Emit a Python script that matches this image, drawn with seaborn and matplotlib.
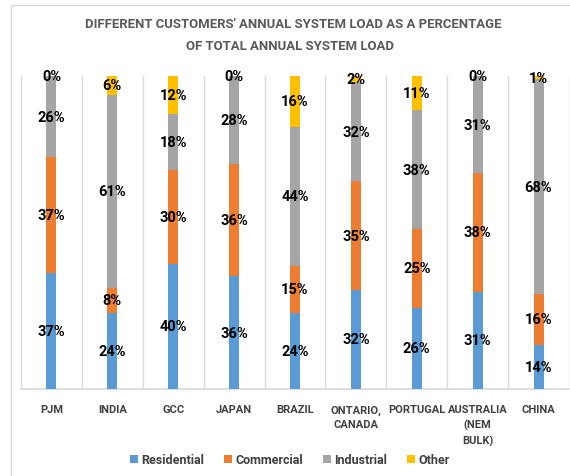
import matplotlib
matplotlib.use("Agg")
import matplotlib.pyplot as plt
import seaborn as sns
import pandas as pd
import numpy as np
from matplotlib.patches import Rectangle, Patch

categories = ["PJM", "INDIA", "GCC", "JAPAN", "BRAZIL", "ONTARIO,\nCANADA",
              "PORTUGAL", "AUSTRALIA\n(NEM\nBULK)", "CHINA"]
residential = [37, 24, 40, 36, 24, 32, 26, 31, 14]
commercial = [37, 8, 30, 36, 15, 35, 25, 38, 16]
industrial = [26, 61, 18, 28, 44, 32, 38, 31, 68]
other = [0, 6, 12, 0, 16, 2, 11, 0, 1]
series_names = ["Residential", "Commercial", "Industrial", "Other"]
colors = ["#5B9BD5", "#ED7D31", "#A5A5A5", "#FFC000"]

sns.set_theme(style="white")
FONT = ["Roboto", "DejaVu Sans"]
plt.rcParams["font.family"] = FONT

df = pd.DataFrame({"cat": categories, "Residential": residential,
                   "Commercial": commercial, "Industrial": industrial,
                   "Other": other})
vals = df[series_names].astype(float)
share = vals.div(vals.sum(axis=1), axis=0) * 100
cum = share.cumsum(axis=1)

fig = plt.figure(figsize=(5.70, 4.77), dpi=100)
fig.patches.append(Rectangle((11 / 570, -0.1), 1.1, 1 - 6 / 477 + 0.1,
                             transform=fig.transFigure, fill=False,
                             edgecolor="#D9D9D9", linewidth=1.0))
ax = fig.add_axes([21 / 570, 1 - 390 / 477, 548 / 570, (390 - 77) / 477])

for name, col in zip(series_names[::-1], colors[::-1]):
    sns.barplot(x=df["cat"], y=cum[name], color=col, width=0.165,
                saturation=1, ax=ax, linewidth=0, zorder=3)

ax.set_ylim(0, 100)
ax.set_xlim(-0.5, len(categories) - 0.5)
for b in np.arange(-0.5, len(categories), 1.0):
    ax.axvline(b, color="#D9D9D9", linewidth=1.0, zorder=1)
for s in ["top", "right", "left"]:
    ax.spines[s].set_visible(False)
ax.spines["bottom"].set_color("#D9D9D9")
ax.set_yticks([])
ax.set_xlabel("")
ax.set_ylabel("")
ax.tick_params(axis="x", length=0, pad=11)
ax.set_xticks(range(len(categories)))
ax.set_xticklabels(categories, fontsize=8, fontweight="bold",
                   color="#404040", va="top", linespacing=1.5)

for i in range(len(categories)):
    base = 0.0
    for name in series_names:
        h = share.loc[i, name]
        ax.text(i, base + h / 2, f"{int(vals.loc[i, name])}%", ha="center",
                va="center", fontsize=10.5, fontweight="bold", color="black",
                zorder=5)
        base += h

t1 = fig.text(293 / 570, 1 - 25 / 477,
              "DIFFERENT CUSTOMERS' ANNUAL SYSTEM LOAD AS A PERCENTAGE",
              ha="center", va="center", fontsize=11, fontweight="bold",
              color="#595959")
t2 = fig.text(290 / 570, 1 - 46 / 477, "OF TOTAL ANNUAL SYSTEM LOAD",
              ha="center", va="center", fontsize=11, fontweight="bold",
              color="#595959")
renderer = fig.canvas.get_renderer()
w = t1.get_window_extent(renderer).width
fs = 11 * 415 / w
t1.set_fontsize(fs)
t2.set_fontsize(fs)

handles = [Patch(facecolor=c, edgecolor="none") for c in colors]
fig.legend(handles, series_names, loc="center", bbox_to_anchor=(290 / 570, 1 - 461 / 477),
           ncol=4, frameon=False, handlelength=0.6, handleheight=0.6,
           handletextpad=0.3, columnspacing=1.6,
           prop={"size": 9, "weight": "bold", "family": FONT},
           labelcolor="#404040")

fig.savefig("out.png", dpi=100)
